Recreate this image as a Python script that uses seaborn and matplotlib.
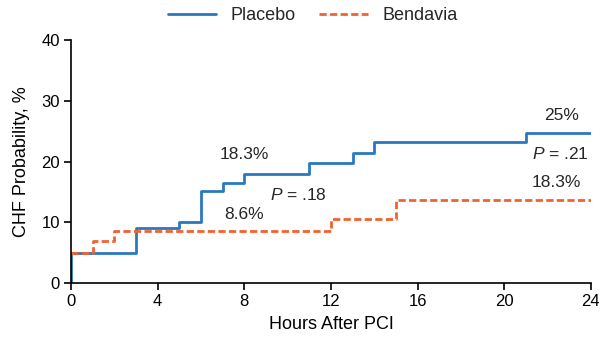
import matplotlib
matplotlib.use("Agg")
import matplotlib.pyplot as plt
import seaborn as sns
import pandas as pd
from matplotlib import font_manager

placebo_hours = [0, 0, 3, 5, 6, 7, 8, 11, 13, 14, 21, 24]
placebo_prob = [0, 4.9, 9.1, 10.1, 15.1, 16.5, 18.0, 19.7, 21.4, 23.2, 24.7, 24.7]
bendavia_hours = [0, 1, 2, 12, 15, 24]
bendavia_prob = [5.0, 7.0, 8.6, 10.5, 13.7, 13.7]
x_ticks = [0, 4, 8, 12, 16, 20, 24]
y_ticks = [0, 10, 20, 30, 40]

sns.set_style("ticks")
names = {f.name for f in font_manager.fontManager.ttflist}
fam = "Liberation Sans Narrow" if "Liberation Sans Narrow" in names else "Liberation Sans"
plt.rcParams["font.family"] = [fam, "DejaVu Sans"]
plt.rcParams["mathtext.fontset"] = "custom"
plt.rcParams["mathtext.it"] = f"{fam}:italic"
plt.rcParams["mathtext.rm"] = fam

blue = "#2a79c0"
orange = "#f2622e"

fig = plt.figure(figsize=(5.99, 3.46), dpi=100)
ax = fig.add_axes([0.1185, 0.182, 0.868, 0.702])

dp = pd.DataFrame({"h": placebo_hours, "p": placebo_prob})
db = pd.DataFrame({"h": bendavia_hours, "p": bendavia_prob})
sns.lineplot(data=dp, x="h", y="p", ax=ax, color=blue, lw=2.0, estimator=None,
             sort=False, drawstyle="steps-post", label="Placebo")
sns.lineplot(data=db, x="h", y="p", ax=ax, color=orange, lw=2.0, estimator=None,
             sort=False, drawstyle="steps-post", label="Bendavia", linestyle=(0, (2.6, 1.2)))

ax.set_xlim(0, 24)
ax.set_ylim(0, 40)
ax.set_xticks(x_ticks)
ax.set_yticks(y_ticks)
ax.tick_params(labelsize=12, length=5, width=1.2, color="black", labelcolor="black", pad=3)
for s in ["top", "right"]:
    ax.spines[s].set_visible(False)
for s in ["left", "bottom"]:
    ax.spines[s].set_linewidth(1.2)
    ax.spines[s].set_color("black")
ax.set_xlabel("Hours After PCI", fontsize=13, color="black", labelpad=5)
ax.set_ylabel("CHF Probability, %", fontsize=13, color="black", labelpad=8)

fs = 12.5
ax.text(8.0, 19.9, "18.3%", ha="center", va="bottom", fontsize=fs)
ax.text(10.5, 13.2, "$\\mathit{P}$ = .18", ha="center", va="bottom", fontsize=fs)
ax.text(8.0, 10.0, "8.6%", ha="center", va="bottom", fontsize=fs)
ax.text(22.65, 26.3, "25%", ha="center", va="bottom", fontsize=fs)
ax.text(23.9, 19.9, "$\\mathit{P}$ = .21", ha="right", va="bottom", fontsize=fs)
ax.text(22.4, 15.3, "18.3%", ha="center", va="bottom", fontsize=fs)

leg = ax.legend(loc="lower center", bbox_to_anchor=(0.465, 1.035), ncol=2, frameon=False,
                fontsize=13, handlelength=2.7, handletextpad=0.8, columnspacing=1.3,
                borderaxespad=0)

fig.savefig("out.png", dpi=100)
